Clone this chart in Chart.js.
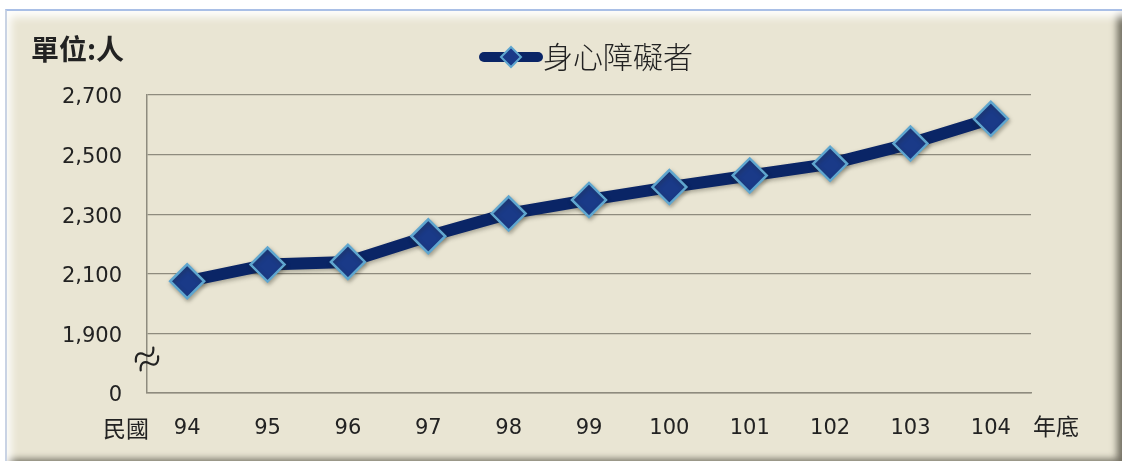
<!DOCTYPE html>
<html>
<head>
<meta charset="utf-8">
<script src="https://cdn.jsdelivr.net/npm/chart.js@4/dist/chart.umd.min.js"></script>
<style>
  html, body { margin: 0; padding: 0; background: #ffffff; }
  #wrap { position: relative; width: 1127px; height: 465px; overflow: hidden; }
  #frame {
    position: absolute; left: 5px; top: 9px; width: 1117px; height: 452px;
    background: #E9E5D3;
    border-top: 2px solid #A9BFE6;
    border-left: 2px solid #C9D3E4;
    box-sizing: border-box;
    box-shadow: inset 9px 11px 8px -5px rgba(255,255,255,0.95),
                inset -9px -6px 7px -4px rgba(95,92,80,0.85);
  }
  canvas { position: absolute; left: 0; top: 0; }
</style>
</head>
<body>
<div id="wrap">
  <div id="frame"></div>
  <canvas id="c" width="1127" height="465"></canvas>
</div>
<script>
const categories = ['94','95','96','97','98','99','100','101','102','103','104'];
const seriesName = '身心障礙者';
const values = [2075, 2131, 2140, 2226, 2302, 2348, 2391, 2430, 2469, 2537, 2620];
const tickValues = [1700, 1900, 2100, 2300, 2500, 2700];
const tickLabels = ['0', '1,900', '2,100', '2,300', '2,500', '2,700'];
const unitLabel = '單位:人';
const xPrefix = '民國';
const xSuffix = '年底';

const LINE = '#0A2566';
const MARK_FILL = '#1A3A88';
const MARK_EDGE = '#5FA6CF';
const GRID = '#8E8B7E';
const TEXT = '#222222';
const NUMFONT = 'DejaVu Sans';
const CJK = '"Noto Sans CJK TC", "Noto Sans CJK SC", sans-serif';

function wave(ctx, oy) {
  ctx.beginPath();
  ctx.moveTo(-11, oy + 2);
  ctx.bezierCurveTo(-8, oy - 5, -3, oy - 5, 0, oy);
  ctx.bezierCurveTo(3, oy + 5, 8, oy + 5, 11, oy - 2);
  ctx.stroke();
}

const decor = {
  id: 'decor',
  afterDraw(chart) {
    const { ctx, chartArea, scales } = chart;
    ctx.save();
    ctx.fillStyle = TEXT;
    ctx.font = '700 28px ' + CJK;
    ctx.textBaseline = 'middle';
    ctx.textAlign = 'left';
    ctx.fillText(unitLabel, 31, 49);
    ctx.font = '23px ' + CJK;
    ctx.textAlign = 'right';
    ctx.fillText(xPrefix, chartArea.left + 2, 428);
    ctx.textAlign = 'left';
    ctx.fillText(xSuffix, chartArea.right + 2, 426);
    // axis break symbol
    ctx.save();
    ctx.translate(chartArea.left, scales.y.getPixelForValue(1700) - 34);
    ctx.rotate(-0.5);
    ctx.strokeStyle = TEXT;
    ctx.lineWidth = 2.2;
    ctx.lineCap = 'round';
    wave(ctx, -5);
    wave(ctx, 5);
    ctx.restore();
    // legend
    const lx1 = 479, lx2 = 543, ly = 57;
    ctx.strokeStyle = LINE;
    ctx.lineWidth = 10;
    ctx.lineCap = 'round';
    ctx.beginPath();
    ctx.moveTo(lx1 + 5, ly); ctx.lineTo(lx2 - 5, ly);
    ctx.stroke();
    const cx = (lx1 + lx2) / 2, r = 10;
    ctx.beginPath();
    ctx.moveTo(cx - r, ly); ctx.lineTo(cx, ly - r); ctx.lineTo(cx + r, ly); ctx.lineTo(cx, ly + r);
    ctx.closePath();
    ctx.fillStyle = MARK_FILL; ctx.fill();
    ctx.lineWidth = 2; ctx.strokeStyle = MARK_EDGE; ctx.stroke();
    ctx.fillStyle = TEXT;
    ctx.font = '300 30px ' + CJK;
    ctx.textAlign = 'left';
    ctx.textBaseline = 'middle';
    ctx.fillText(seriesName, lx2, ly);
    ctx.restore();
  }
};

const shadow = {
  id: 'shadow',
  beforeDatasetDraw(chart) {
    const ctx = chart.ctx;
    ctx.save();
    ctx.shadowColor = 'rgba(40,40,30,0.35)';
    ctx.shadowBlur = 4;
    ctx.shadowOffsetX = 1;
    ctx.shadowOffsetY = 2;
  },
  afterDatasetDraw(chart) { chart.ctx.restore(); }
};

new Chart(document.getElementById('c'), {
  type: 'line',
  data: {
    labels: categories,
    datasets: [{
      label: seriesName,
      data: values,
      borderColor: LINE,
      borderWidth: 12,
      borderJoinStyle: 'round',
      borderCapStyle: 'round',
      tension: 0,
      pointStyle: 'rectRot',
      pointRadius: 17,
      pointHoverRadius: 17,
      pointBackgroundColor: MARK_FILL,
      pointBorderColor: MARK_EDGE,
      pointBorderWidth: 2.5
    }]
  },
  options: {
    responsive: false,
    devicePixelRatio: 1,
    animation: false,
    events: [],
    layout: { padding: { top: 95, right: 96, bottom: 0, left: 0 } },
    plugins: { legend: { display: false }, tooltip: { enabled: false } },
    scales: {
      x: {
        offset: true,
        grid: { display: false, drawTicks: false },
        border: { display: true, color: GRID, width: 1.5 },
        ticks: { color: TEXT, font: { family: NUMFONT, size: 21 }, padding: 23, maxRotation: 0 },
        afterFit(s) { s.height = 72; }
      },
      y: {
        min: 1700, max: 2700,
        afterBuildTicks(s) { s.ticks = tickValues.map(v => ({ value: v })); },
        grid: { color: GRID, lineWidth: 1.3, drawTicks: false },
        border: { display: true, color: GRID, width: 1.5 },
        ticks: {
          color: TEXT, font: { family: NUMFONT, size: 21 }, padding: 25, labelOffset: 3,
          callback(v) { const i = tickValues.indexOf(v); return i >= 0 ? tickLabels[i] : ''; }
        },
        afterFit(s) { s.width = 147; }
      }
    }
  },
  plugins: [shadow, decor]
});
</script>
</body>
</html>
